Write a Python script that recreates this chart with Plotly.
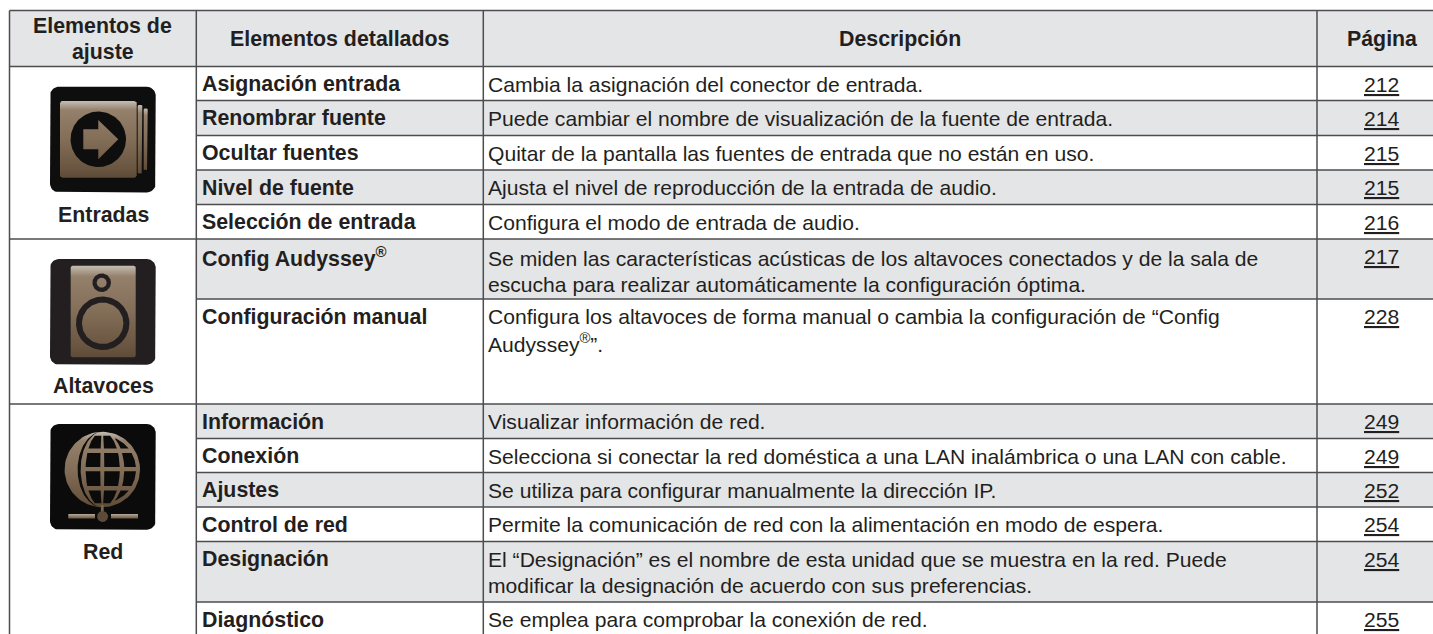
import numpy as np
import plotly.graph_objects as go

# ---------- table content ----------
headers = ["Elementos de<br>ajuste", "Elementos detallados", "Descripción", "Página"]
groups = ["Entradas", "Altavoces", "Red"]
items = ["Asignación entrada", "Renombrar fuente", "Ocultar fuentes", "Nivel de fuente",
         "Selección de entrada", "Config Audyssey<sup>®</sup>", "Configuración manual",
         "Información", "Conexión", "Ajustes", "Control de red", "Designación", "Diagnóstico"]
descriptions = [
    "Cambia la asignación del conector de entrada.",
    "Puede cambiar el nombre de visualización de la fuente de entrada.",
    "Quitar de la pantalla las fuentes de entrada que no están en uso.",
    "Ajusta el nivel de reproducción de la entrada de audio.",
    "Configura el modo de entrada de audio.",
    "Se miden las características acústicas de los altavoces conectados y de la sala de<br>escucha para realizar automáticamente la configuración óptima.",
    "Configura los altavoces de forma manual o cambia la configuración de “Config<br>Audyssey<sup>®</sup>”.",
    "Visualizar información de red.",
    "Selecciona si conectar la red doméstica a una LAN inalámbrica o una LAN con cable.",
    "Se utiliza para configurar manualmente la dirección IP.",
    "Permite la comunicación de red con la alimentación en modo de espera.",
    "El “Designación” es el nombre de esta unidad que se muestra en la red. Puede<br>modificar la designación de acuerdo con sus preferencias.",
    "Se emplea para comprobar la conexión de red.",
]
pages = ["212", "214", "215", "215", "216", "217", "228", "249", "249", "252", "254", "254", "255"]
shaded = [False, True, False, True, False, True, False, True, False, True, False, True, False]

# ---------- layout of the table (pixel scale) ----------
W, H = 1433, 634
col_lines = [9.5, 196.3, 483.3, 1317.0]
row_lines = [66.5, 100.5, 135.5, 170, 204.5, 239, 299, 404, 438.5, 472.5, 507, 541.5, 602, 637]
group_breaks = [239, 404]
top_line = 10.5
FONT = "Liberation Sans"
INK = "#231f20"
GRAY = "#e4e5e7"
LINE = "#4d4d4f"
SIZE = 21.1
SIZE_BOLD = 21.35
LH = 26
ROW_TEXT = 17.5

fig = go.Figure()
shapes, notes = [], []

def rect(x0, y0, x1, y1, color):
    shapes.append(dict(type="rect", x0=x0, x1=x1, y0=y0, y1=y1, fillcolor=color,
                       line_width=0, layer="below"))

def hline(y, x0, x1, w=1.5, c=LINE):
    shapes.append(dict(type="line", x0=x0, x1=x1, y0=y, y1=y, line=dict(color=c, width=w), layer="below"))

def vline(x, y0, y1, w=1.5, c=LINE):
    shapes.append(dict(type="line", x0=x, x1=x, y0=y0, y1=y1, line=dict(color=c, width=w), layer="below"))

def text(x, y, s, anchor="left", bold=False, under=False):
    lines = s.split("<br>")
    y0 = y - (len(lines) - 1) * LH / 2
    for k, line in enumerate(lines):
        notes.append(dict(x=x, y=y0 + k * LH, text=f"<b>{line}</b>" if bold else line, showarrow=False,
                          xanchor=anchor, yanchor="middle", align=anchor,
                          font=dict(family=FONT, size=SIZE_BOLD if bold else SIZE, color=INK,
                                    lineposition="under" if under else "none")))

# backgrounds
rect(col_lines[0], top_line, W, row_lines[0], GRAY)
for i, s in enumerate(shaded):
    if s:
        rect(col_lines[1], row_lines[i], W, row_lines[i + 1], GRAY)

# rules
hline(top_line, col_lines[0], W)
hline(row_lines[0], col_lines[0], W)
for i, y in enumerate(row_lines[1:-1]):
    hline(y, col_lines[0] if y in group_breaks else col_lines[1], W)
for x in col_lines:
    vline(x, top_line, H)

# header text
page_x = 1381.7
hx = [(col_lines[0] + col_lines[1]) / 2, (col_lines[1] + col_lines[2]) / 2,
      (col_lines[2] + col_lines[3]) / 2, page_x]
for x, h in zip(hx, headers):
    text(x, (top_line + row_lines[0]) / 2 + 0.5, h, anchor="center", bold=True)

# body text
for i in range(len(items)):
    top = row_lines[i]
    text(col_lines[1] + 4, top + ROW_TEXT, items[i], bold=True)
    d = descriptions[i]
    nudge = 2 if i == 5 else 0
    text(col_lines[2] + 3, top + (ROW_TEXT + LH / 2 + nudge if "<br>" in d else ROW_TEXT), d)
    text(page_x, top + ROW_TEXT, pages[i], anchor="center", under=True)

# group captions
group_x = 103.3
for g, y in zip(groups, [215, 386, 551.5]):
    text(group_x, y, g, anchor="center", bold=True)

# ---------- icons ----------
PANEL = [[0, "#c4bdb3"], [0.12, "#94806b"], [0.5, "#836e58"], [0.88, "#695540"], [1, "#5e4b37"]]

def gradient(top, bottom):
    return dict(type="vertical", start=top, stop=bottom, colorscale=PANEL)

def poly(xs, ys, color=None, grad=None):
    kw = dict(fillgradient=grad) if grad else dict(fillcolor=color)
    fig.add_trace(go.Scatter(x=list(xs), y=list(ys), mode="lines", fill="toself", line=dict(width=0),
                             hoverinfo="skip", showlegend=False, **kw))

def rounded(x0, y0, x1, y1, r, color=None, grad=None):
    t = np.linspace(0, np.pi / 2, 10)
    xs = np.r_[x1 - r + r * np.sin(t), x1 - r + r * np.cos(t), x0 + r - r * np.sin(t), x0 + r - r * np.cos(t)]
    ys = np.r_[y0 + r - r * np.cos(t), y1 - r + r * np.sin(t), y1 - r + r * np.cos(t), y0 + r - r * np.sin(t)]
    poly(np.r_[xs, xs[0]], np.r_[ys, ys[0]], color, grad)

def disc(cx, cy, r, color=None, grad=None):
    t = np.linspace(0, 2 * np.pi, 90)
    poly(cx + r * np.cos(t), cy + r * np.sin(t), color, grad)

BOX_X, BOX_S = 50, 105.7

# Entradas
by = 86.7
rounded(BOX_X, by, BOX_X + BOX_S, by + BOX_S, 9, "#0e0e0e")
rounded(143.7, 108.5, 147.7, 170, 1, grad=gradient(108.5, 170))
rounded(137.7, 105, 142.3, 173.5, 1, grad=gradient(105, 173.5))
rounded(60, 101, 136.7, 177.7, 2.5, grad=gradient(101, 177.7))
disc(98.3, 139.3, 27.7, "#0e0e0e")
poly([83.3, 98.3, 98.3, 118.3, 98.3, 98.3, 83.3, 83.3],
     [129.3, 129.3, 120, 139.3, 159.3, 149.3, 149.3, 129.3], grad=gradient(101, 177.7))

# Altavoces
by = 259
rounded(BOX_X, by, BOX_X + BOX_S, by + BOX_S, 9, "#231f20")
g = gradient(265.7, 357.3)
rounded(70.7, 265.7, 135.7, 357.3, 2, grad=g)
disc(101.7, 282.7, 9.3, "#231f20")
disc(101.7, 282.7, 5, grad=g)
disc(102.7, 323.3, 26.7, "#231f20")
disc(102.7, 323.3, 20.7, grad=g)

# Red
by = 424
rounded(BOX_X, by, BOX_X + BOX_S, by + BOX_S, 9, "#0b0b0b")
cx, cy, R = 102.3, 469.5, 37.7
g = gradient(431.8, 507.2)
disc(cx, cy, R, grad=g)

def ell(a, y, Rad=R):
    return a * np.sqrt(np.clip(1 - ((y - cy) / Rad) ** 2, 0, 1))

# dark slit between the crescent and the sphere
ys = np.linspace(cy - R, cy + R, 60)
poly(np.r_[cx + ell(-24.7, ys), cx + ell(-21.7, ys)[::-1]], np.r_[ys, ys[::-1]], "#0b0b0b")
# dark grid cells
bands = [(cy - 33.7, 448.5), (452.9, 467), (471.2, 486), (490.4, cy + 33.7)]
cols = [(lambda y: ell(-16.7, y), lambda y: ell(-2, y)),
        (lambda y: ell(2, y), lambda y: ell(17.5, y)),
        (lambda y: ell(22, y), lambda y: ell(33.7, y, 33.7))]
for y0, y1 in bands:
    y = np.linspace(y0, y1, 24)
    for fl, fr in cols:
        xl, xr = cx + fl(y), cx + fr(y)
        keep = xr > xl + 0.2
        if keep.sum() > 1:
            poly(np.r_[xl[keep], xr[keep][::-1]], np.r_[y[keep], y[keep][::-1]], "#0b0b0b")
# stem, node and network bar
poly([cx - 1.4, cx + 1.4, cx + 1.4, cx - 1.4], [505, 505, 512, 512], "#7a654e")
disc(cx + 0.3, 516.5, 5.5, "#5d4b38")
bar = dict(type="vertical", start=514, stop=518.5, colorscale=[[0, "#b3a999"], [1, "#6b5742"]])
poly([68.3, 95, 95, 68.3], [514, 514, 518.5, 518.5], grad=bar)
poly([111, 138, 138, 111], [514, 514, 518.5, 518.5], grad=bar)

fig.update_layout(
    width=W, height=H, margin=dict(l=0, r=0, t=0, b=0), paper_bgcolor="white", plot_bgcolor="white",
    xaxis=dict(range=[0, W], visible=False, fixedrange=True),
    yaxis=dict(range=[H, 0], visible=False, fixedrange=True),
    shapes=shapes, annotations=notes, showlegend=False,
)
fig.write_html("out.html", config=dict(displayModeBar=False),
               post_script="document.body.style.margin='0';document.body.style.overflow='hidden';")
